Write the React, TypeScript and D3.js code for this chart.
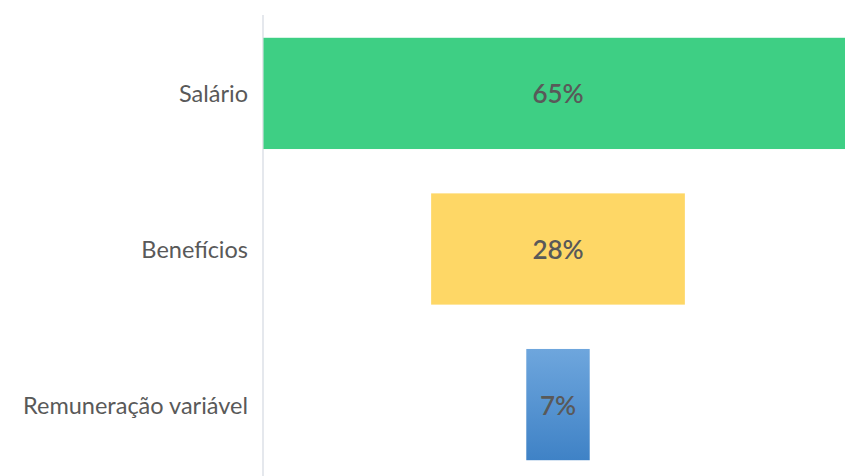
import React from "react";
import * as d3 from "d3";

const categories = ["Salário", "Benefícios", "Remuneração variável"];
const values = [65, 28, 7];
const valueLabels = ["65%", "28%", "7%"];
const colors = ["#3ecf84", "#fed766", "blue"];

const W = 845;
const H = 476;
const axisX = 263;
const centerX = 558;

export default function App() {
  const y = d3.scaleBand<string>().domain(categories).range([16, 482]).paddingInner(0.285).paddingOuter(0.14);
  const w = d3.scaleLinear().domain([0, 65]).range([0, 589]);
  return (
    <svg width={W} height={H} style={{ position: "absolute", left: 0, top: 0, background: "#fff" }}>
      <defs>
        <linearGradient id="blueGrad" x1="0" y1="0" x2="0" y2="1">
          <stop offset="0%" stopColor="#6ea6dd" />
          <stop offset="100%" stopColor="#3f82c6" />
        </linearGradient>
      </defs>
      <line x1={axisX} x2={axisX} y1={15} y2={H} stroke="#dde1e7" strokeWidth={1.5} />
      {categories.map((c, i) => {
        const bw = w(values[i]);
        const by = y(c)!;
        const bh = y.bandwidth();
        const fill = colors[i] === "blue" ? "url(#blueGrad)" : colors[i];
        return (
          <g key={c}>
            <rect x={centerX - bw / 2} y={by} width={bw} height={bh} fill={fill} />
            <text
              x={248}
              y={by + bh / 2}
              textAnchor="end"
              dominantBaseline="central"
              fontFamily="Lato, 'Open Sans', sans-serif"
              fontSize={23.5}
              fill="#595959"
            >
              {c}
            </text>
            <text
              x={centerX}
              y={by + bh / 2}
              textAnchor="middle"
              dominantBaseline="central"
              fontFamily="Lato, 'Open Sans', sans-serif"
              fontSize={26}
              fontWeight={600}
              fill="#595959"
            >
              {valueLabels[i]}
            </text>
          </g>
        );
      })}
    </svg>
  );
}
